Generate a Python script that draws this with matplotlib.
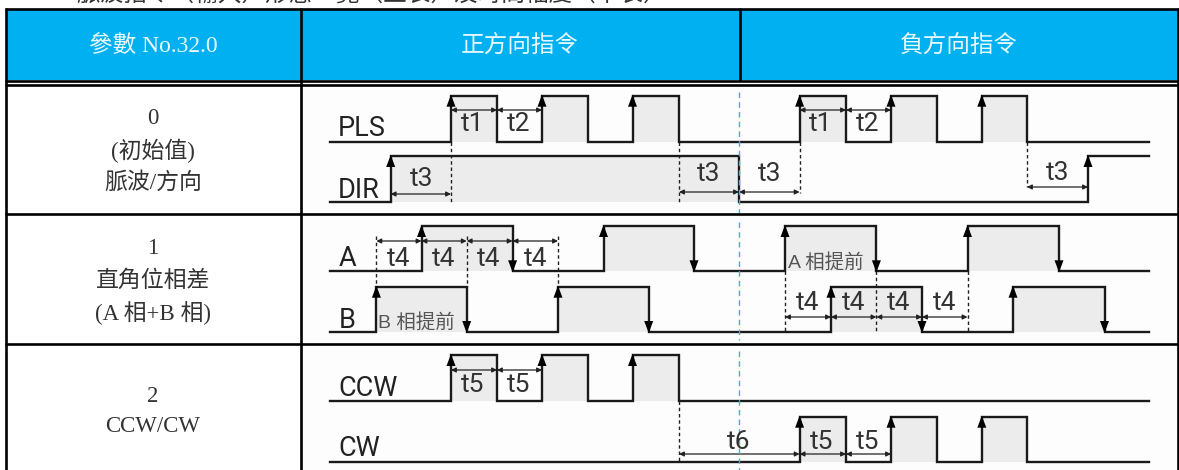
import matplotlib
matplotlib.use('Agg')
import matplotlib.pyplot as plt
from matplotlib.patches import Rectangle

plt.rcParams['font.family'] = ['Liberation Serif', 'Noto Sans CJK TC']
SANS = ['Liberation Sans', 'Noto Sans CJK TC']
DIAGRAM = ['Roboto', 'Liberation Sans']

top_line = '脈波指令（輸入）形態一覽（正表）及時間幅度（下表）'
header_labels = ['參數 No.32.0', '正方向指令', '負方向指令']
row_labels = [['0', '(初始值)', '脈波/方向'],
              ['1', '直角位相差', '(A 相+B 相)'],
              ['2', 'CCW/CW']]
row_label_ys = [[118, 151, 183], [249, 281, 313], [397, 427]]

# signal edges in px
pls_edges = [451, 497, 542, 588, 632.5, 679, 799.6, 846, 891, 936.6, 981.8, 1027]
dir_edges = [390.7, 739, 1088]
a_edges = [421.5, 512.6, 603.5, 694, 785, 876.4, 967.5, 1059]
b_edges = [376.4, 466.7, 558, 648.7, 831, 922, 1013, 1104.5]
ccw_edges = [451, 497, 542, 588, 632.5, 679]
cw_edges = [799.6, 846, 891, 936.6, 981.8, 1027]

# name, low y, high y, edges, arrows on falling edges too
signals = [('PLS', 141.7, 95.7, pls_edges, False),
           ('DIR', 202, 156, dir_edges, False),
           ('A', 271.3, 226, a_edges, True),
           ('B', 332, 286.7, b_edges, True),
           ('CCW', 401, 355, ccw_edges, False),
           ('CW', 462, 416.7, cw_edges, False)]
signal_label_pos = {'PLS': (338, 128), 'DIR': (338, 190), 'A': (339, 258),
                    'B': (339, 320), 'CCW': (338, 388), 'CW': (338, 448)}

# dimension arrows: x0, x1, y, label, label x, label y
dims = [(451, 497, 110, 't1', 473, 124), (497, 542, 110, 't2', 519, 124),
        (390.7, 451, 194, 't3', 421.5, 179), (679, 739, 192, 't3', 708.5, 174),
        (739, 799.6, 192, 't3', 770, 174), (1027, 1088, 187, 't3', 1058, 173),
        (799.6, 846, 110, 't1', 821, 124), (846, 891, 110, 't2', 868, 124),
        (376.4, 421.5, 241, 't4', 399, 259), (421.5, 466.7, 241, 't4', 444, 259),
        (466.7, 512.6, 241, 't4', 489, 259), (512.6, 558, 241, 't4', 536, 259),
        (785, 831, 317, 't4', 808, 303), (831, 876.4, 317, 't4', 853.5, 303),
        (876.4, 922, 317, 't4', 899, 303), (922, 967.5, 317, 't4', 944.5, 303),
        (451, 497, 370, 't5', 473, 385), (497, 542, 370, 't5', 519, 385),
        (679, 799.6, 454, 't6', 738.7, 441.7), (799.6, 846, 454, 't5', 822, 441.7),
        (846, 891, 454, 't5', 868, 441.7)]

# dotted guide lines: x, y0, y1
guides = [(451, 142, 202), (679, 142, 202), (799.6, 142, 193), (1027, 142, 187),
          (376.4, 236, 287), (466.7, 236, 287), (558, 236, 287),
          (785, 271, 332), (876.4, 271, 332), (967.5, 271, 332),
          (679, 401, 462)]
center_line = [(92, 213), (222, 340), (351, 470)]

fig = plt.figure(figsize=(11.79, 4.70), dpi=100)
ax = fig.add_axes([0, 0, 1, 1])
ax.set_xlim(0, 1179)
ax.set_ylim(470, 0)
ax.axis('off')

x_start, x_end = 330, 1149
shade = '#ececec'
line_col = '#1a1a1a'

# heading above the table, cut by the top edge of the scan
ax.text(58, -4, '>', fontsize=17, color='#333333', ha='left', va='center', clip_on=True)
ax.text(76, -6, top_line, fontsize=17, color='#333333', ha='left', va='center', clip_on=True)

# header band
ax.add_patch(Rectangle((6, 9), 1173, 71, fc='#00b0f0', ec='none', zorder=0))
# faint off-white behind the pasted diagrams
ax.add_patch(Rectangle((303, 86), 876, 384, fc='#fdfdfd', ec='none', zorder=0))

for name, low, high, edges, down_arrows in signals:
    xs, ys = [x_start], [low]
    level = low
    for i, e in enumerate(edges):
        new_level = high if level == low else low
        xs += [e, e]
        ys += [level, new_level]
        if new_level == high:
            # the last DIR rise has no shading after it
            if i + 1 < len(edges):
                ax.add_patch(Rectangle((e, high), edges[i + 1] - e, low - high, fc=shade, ec='none', zorder=1))
            ax.fill([e - 4.5, e + 4.5, e], [high + 11, high + 11, high - 1], color='black', zorder=5, lw=0)
        elif down_arrows:
            ax.fill([e - 4.5, e + 4.5, e], [low - 11, low - 11, low + 1], color='black', zorder=5, lw=0)
        level = new_level
    xs.append(x_end)
    ys.append(level)
    ax.plot(xs, ys, color=line_col, lw=1.7, zorder=4, solid_joinstyle='miter')
    lx, ly = signal_label_pos[name]
    ax.text(lx, ly, name, family=DIAGRAM, fontsize=19.5, color='#222222', ha='left', va='center', zorder=6)

for x, y0, y1 in guides:
    ax.plot([x, x], [y0, y1], color='#222222', lw=1, ls=(0, (2.5, 2)), zorder=3)
for y0, y1 in center_line:
    ax.plot([739, 739], [y0, y1], color='#35b5dc', lw=1, ls=(0, (4, 3)), zorder=6)

for x0, x1, y, label, lx, ly in dims:
    ax.annotate('', xy=(x1, y), xytext=(x0, y), zorder=5,
                arrowprops=dict(arrowstyle='<|-|>', color='#222222', lw=0.9, mutation_scale=7,
                                shrinkA=0, shrinkB=0))
    ax.text(lx, ly, label, family=DIAGRAM, fontsize=19, color='#333333', ha='center', va='center', zorder=6)

ax.text(378, 322.7, 'B 相提前', family=SANS, fontsize=14, color='#555555', ha='left', va='center', zorder=6)
ax.text(788, 262.7, 'A 相提前', family=SANS, fontsize=14, color='#555555', ha='left', va='center', zorder=6)

# table rules
rule = dict(color='black', lw=1.9, zorder=8, solid_capstyle='butt')
for y in [8.5, 80.5, 84.5, 213.5, 344]:
    ax.plot([5, 1179], [y, y], **rule)
ax.plot([6, 6], [8, 470], **rule)
ax.plot([301, 301], [8, 470], **rule)
ax.plot([739.5, 739.5], [8, 81], **rule)
ax.plot([1178, 1178], [8, 470], **rule)

# table text
for x, label in zip([153, 520, 959], header_labels):
    ax.text(x, 46, label, fontsize=17, color='#e8f8ff', ha='center', va='center', zorder=9)
for lines, ys in zip(row_labels, row_label_ys):
    for label, y in zip(lines, ys):
        ax.text(153, y, label, fontsize=16.5, color='#333333', ha='center', va='center', zorder=9)

fig.savefig('out.png', dpi=100)
